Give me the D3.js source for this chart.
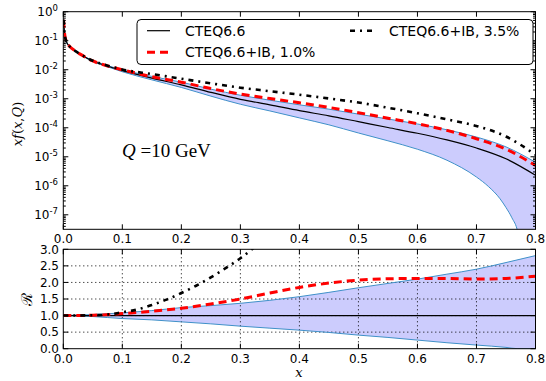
<!DOCTYPE html>
<html><head><meta charset="utf-8">
<script src="https://cdn.jsdelivr.net/npm/d3@7"></script>
<style>body{margin:0;background:#fff}svg{display:block}</style>
</head><body>
<svg id="c" width="546" height="381"></svg>
<script>
// ---- data ----
const xTop = [0.0005,0.002,0.005,0.01,0.02,0.03,0.05,0.075,0.1,0.15,0.2,0.25,0.3,0.35,0.4,0.45,0.5,0.55,0.6,0.65,0.7,0.75,0.8];
const central = [0.525,0.19,0.0955,0.066,0.0447,0.0331,0.02,0.0132,0.00933,0.00513,0.00302,0.00166,9.55e-4,6.17e-4,3.89e-4,2.57e-4,1.62e-4,1.02e-4,6.46e-5,3.80e-5,2.0e-5,8.5e-6,2.3e-6];
const bandUp = [0.525,0.19,0.0955,0.066,0.0447,0.0339,0.0204,0.0138,0.01,0.00589,0.00372,0.00214,0.00132,8.91e-4,6.17e-4,4.37e-4,2.95e-4,2.0e-4,1.35e-4,8.51e-5,4.79e-5,2.19e-5,6.46e-6];
const xBandLo = [0.0005,0.002,0.005,0.01,0.02,0.03,0.05,0.075,0.1,0.15,0.2,0.25,0.3,0.35,0.4,0.45,0.5,0.55,0.6,0.65,0.7,0.72,0.74,0.75,0.76,0.77,0.78,0.8];
const bandLo = [0.525,0.186,0.0933,0.0646,0.0437,0.0316,0.0195,0.0126,0.00851,0.00447,0.00245,0.00123,6.46e-4,3.80e-4,2.19e-4,1.26e-4,6.61e-5,3.55e-5,1.82e-5,7.59e-6,2.0e-6,9.55e-7,3.55e-7,1.78e-7,7.9e-8,2.5e-8,1e-9,1e-10];
const ib10 = [0.525,0.19,0.0955,0.066,0.0447,0.0331,0.02,0.0135,0.01,0.00575,0.00372,0.00224,0.00145,0.00102,7.24e-4,5.01e-4,3.31e-4,2.14e-4,1.38e-4,8.13e-5,4.17e-5,1.82e-5,5.0e-6];
const ib35 = [0.525,0.19,0.0955,0.066,0.0447,0.0331,0.0204,0.0138,0.0102,0.00708,0.0049,0.00339,0.0024,0.00182,0.00138,0.00102,7.41e-4,4.9e-4,3.16e-4,1.95e-4,1.15e-4,5.01e-5,1.17e-5];

const xR = [0,0.05,0.1,0.15,0.2,0.25,0.3,0.35,0.4,0.45,0.5,0.55,0.6,0.65,0.7,0.75,0.8];
const rUp = [1,1.03,1.08,1.15,1.24,1.30,1.37,1.46,1.57,1.70,1.84,1.97,2.10,2.25,2.40,2.60,2.81];
const rIb10 = [1,1.01,1.06,1.13,1.22,1.35,1.50,1.68,1.85,1.98,2.07,2.11,2.12,2.12,2.10,2.12,2.19];
const xRLo = [0,0.05,0.1,0.15,0.2,0.25,0.3,0.35,0.4,0.45,0.5,0.55,0.6,0.65,0.7,0.75,0.77,0.8];
const rLo = [1,0.97,0.91,0.87,0.81,0.75,0.68,0.62,0.56,0.49,0.41,0.34,0.26,0.18,0.11,0.04,0,0];
const xRIb35 = [0,0.05,0.075,0.1,0.125,0.15,0.175,0.2,0.225,0.25,0.275,0.3,0.325];
const rIb35 = [1,1.01,1.03,1.1,1.18,1.32,1.48,1.68,1.90,2.15,2.43,2.73,3.08];

const xTicks = [0,0.1,0.2,0.3,0.4,0.5,0.6,0.7,0.8];
const xTickLabels = ["0.0","0.1","0.2","0.3","0.4","0.5","0.6","0.7","0.8"];
const yTopExp = [0,-1,-2,-3,-4,-5,-6,-7];
const rTicks = [0,0.5,1,1.5,2,2.5,3];
const rTickLabels = ["0.0","0.5","1.0","1.5","2.0","2.5","3.0"];
const legendLabels = ["CTEQ6.6","CTEQ6.6+IB, 1.0%","CTEQ6.6+IB, 3.5%"];

// ---- layout ----
const L = 63.3, R = 535.5;
const T1 = 11.7, B1 = 229.3, T2 = 249.3, B2 = 348.7;
const x = d3.scaleLinear([0,0.8],[L,R]);
const yT = d3.scaleLog([Math.pow(10,-7.5),1],[B1,T1]);
const yB = d3.scaleLinear([0,3],[B2,T2]);

const svg = d3.select("#c");
const font = "DejaVu Sans, sans-serif";
const bandFill = "#ccccfd", bandEdge = "#3f90c8";

const defs = svg.append("defs");
defs.append("clipPath").attr("id","c1").append("rect").attr("x",L).attr("y",T1).attr("width",R-L).attr("height",B1-T1);
defs.append("clipPath").attr("id","c2").append("rect").attr("x",L).attr("y",T2).attr("width",R-L).attr("height",B2-T2);

const curve = d3.curveMonotoneX;
const lineOf = (xs, ys, ys_) => d3.line().curve(curve)(xs.map((v,i)=>[x(v), ys_(ys[i])]));

// ---- top panel ----
const g1 = svg.append("g").attr("clip-path","url(#c1)");
const upPts = xTop.map((v,i)=>[x(v), yT(bandUp[i])]);
const loPts = xBandLo.map((v,i)=>[x(v), yT(bandLo[i])]);
const upPath = d3.line().curve(curve)(upPts);
const loPathRev = d3.line().curve(curve)(loPts.slice().reverse());
g1.append("path").attr("d", upPath + "L" + loPathRev.slice(1) + "Z").attr("fill",bandFill).attr("stroke","none");
g1.append("path").attr("d", upPath).attr("fill","none").attr("stroke",bandEdge).attr("stroke-width",1);
g1.append("path").attr("d", d3.line().curve(curve)(loPts)).attr("fill","none").attr("stroke",bandEdge).attr("stroke-width",1);
g1.append("path").attr("d", lineOf(xTop, central, yT)).attr("fill","none").attr("stroke","#000").attr("stroke-width",1.2);
g1.append("path").attr("d", lineOf(xTop, ib10, yT)).attr("fill","none").attr("stroke","#ff0000").attr("stroke-width",3).attr("stroke-dasharray","8,5");
g1.append("path").attr("d", lineOf(xTop, ib35, yT)).attr("fill","none").attr("stroke","#000").attr("stroke-width",2.6).attr("stroke-dasharray","5,5,2,5");

// ---- bottom panel ----
const g2 = svg.append("g").attr("clip-path","url(#c2)");
const rUpPts = xR.map((v,i)=>[x(v), yB(rUp[i])]);
const rLoPts = xRLo.map((v,i)=>[x(v), yB(rLo[i])]);
const rUpPath = d3.line().curve(curve)(rUpPts);
const rLoRev = d3.line().curve(curve)(rLoPts.slice().reverse());
g2.append("path").attr("d", rUpPath + "L" + rLoRev.slice(1) + "Z").attr("fill",bandFill);
// grid
xTicks.slice(1,-1).forEach(t=>{
  g2.append("line").attr("x1",x(t)).attr("x2",x(t)).attr("y1",T2).attr("y2",B2).attr("stroke","#000").attr("stroke-width",1).attr("stroke-dasharray","1,3");
});
rTicks.slice(1,-1).forEach(t=>{
  g2.append("line").attr("x1",L).attr("x2",R).attr("y1",yB(t)).attr("y2",yB(t)).attr("stroke","#000").attr("stroke-width",1).attr("stroke-dasharray","1,3");
});
g2.append("path").attr("d", rUpPath).attr("fill","none").attr("stroke",bandEdge).attr("stroke-width",1);
g2.append("path").attr("d", d3.line().curve(curve)(rLoPts)).attr("fill","none").attr("stroke",bandEdge).attr("stroke-width",1);
g2.append("line").attr("x1",L).attr("x2",R).attr("y1",yB(1)).attr("y2",yB(1)).attr("stroke","#000").attr("stroke-width",1.2);
g2.append("path").attr("d", lineOf(xR, rIb10, yB)).attr("fill","none").attr("stroke","#ff0000").attr("stroke-width",3).attr("stroke-dasharray","8,5");
g2.append("path").attr("d", lineOf(xRIb35, rIb35, yB)).attr("fill","none").attr("stroke","#000").attr("stroke-width",2.6).attr("stroke-dasharray","5,5,2,5");

// ---- axes frames & ticks ----
function frame(top,bot){
  svg.append("rect").attr("x",L).attr("y",top).attr("width",R-L).attr("height",bot-top).attr("fill","none").attr("stroke","#000").attr("stroke-width",1);
}
frame(T1,B1); frame(T2,B2);
function tick(x1,y1,x2,y2){svg.append("line").attr("x1",x1).attr("y1",y1).attr("x2",x2).attr("y2",y2).attr("stroke","#000").attr("stroke-width",1);}
// x ticks both panels
[[T1,B1,243],[T2,B2,362.5]].forEach(([t,b,ly])=>{
  xTicks.forEach((v,i)=>{
    tick(x(v),b,x(v),b-5); tick(x(v),t,x(v),t+5);
    svg.append("text").attr("x",x(v)).attr("y",ly).attr("text-anchor","middle").attr("font-family",font).attr("font-size",12).text(xTickLabels[i]);
  });
});
// top y ticks (log)
for(let e=-8;e<=0;e++){
  for(let m=1;m<10;m++){
    const v=m*Math.pow(10,e);
    if(v<yT.domain()[0]||v>1) continue;
    const len = m===1?5:2.5;
    tick(L,yT(v),L+len,yT(v)); tick(R,yT(v),R-len,yT(v));
  }
}
yTopExp.forEach(e=>{
  const t = svg.append("text").attr("x",58).attr("y",yT(Math.pow(10,e))+4.5).attr("text-anchor","end").attr("font-family",font).attr("font-size",12);
  t.append("tspan").text("10");
  t.append("tspan").attr("dy",-5).attr("font-size",8.5).text(e===0?"0":"-"+(-e));
});
// bottom y ticks
rTicks.forEach((v,i)=>{
  tick(L,yB(v),L+5,yB(v)); tick(R,yB(v),R-5,yB(v));
  svg.append("text").attr("x",59).attr("y",yB(v)+4.3).attr("text-anchor","end").attr("font-family",font).attr("font-size",12).text(rTickLabels[i]);
});

// ---- axis titles ----
const yt = svg.append("text").attr("transform","translate(22,124) rotate(-90)").attr("text-anchor","middle").attr("font-family","DejaVu Serif, serif").attr("font-size",13);
yt.append("tspan").attr("font-style","italic").text("x");
yt.append("tspan").attr("font-style","italic").text("f");
yt.append("tspan").text("(");
yt.append("tspan").attr("font-style","italic").text("x");
yt.append("tspan").text(",");
yt.append("tspan").attr("font-style","italic").text("Q");
yt.append("tspan").text(")");
svg.append("text").attr("transform","translate(32,299) rotate(-90)").attr("text-anchor","middle").attr("font-family","DejaVu Serif, serif").attr("font-size",15).text("ℛ");
svg.append("text").attr("x",299).attr("y",377).attr("text-anchor","middle").attr("font-family","DejaVu Serif, serif").attr("font-style","italic").attr("font-size",13).text("x");

// Q label
const q = svg.append("text").attr("x",122).attr("y",157).attr("font-family","Liberation Serif, serif").attr("font-size",19);
q.append("tspan").attr("font-style","italic").text("Q");
q.append("tspan").text(" =10 GeV");

// ---- legend ----
svg.append("rect").attr("x",137).attr("y",19.5).attr("width",396).attr("height",45).attr("rx",4).attr("fill","#fff").attr("stroke","#000").attr("stroke-width",1);
const leg = [
  {x1:147,x2:170,y:30.7,tx:185,ty:35.8,stroke:"#000",w:1.2,dash:null,label:legendLabels[0]},
  {x1:147,x2:170,y:52.3,tx:185,ty:57,stroke:"#ff0000",w:3,dash:"8,5",label:legendLabels[1]},
  {x1:350,x2:373,y:30.7,tx:389,ty:35.8,stroke:"#000",w:2.6,dash:"5,5,2,5",label:legendLabels[2]}
];
leg.forEach(d=>{
  const ln = svg.append("line").attr("x1",d.x1).attr("x2",d.x2).attr("y1",d.y).attr("y2",d.y).attr("stroke",d.stroke).attr("stroke-width",d.w);
  if(d.dash) ln.attr("stroke-dasharray",d.dash);
  svg.append("text").attr("x",d.tx).attr("y",d.ty).attr("font-family",font).attr("font-size",14).text(d.label);
});
</script>
</body></html>
